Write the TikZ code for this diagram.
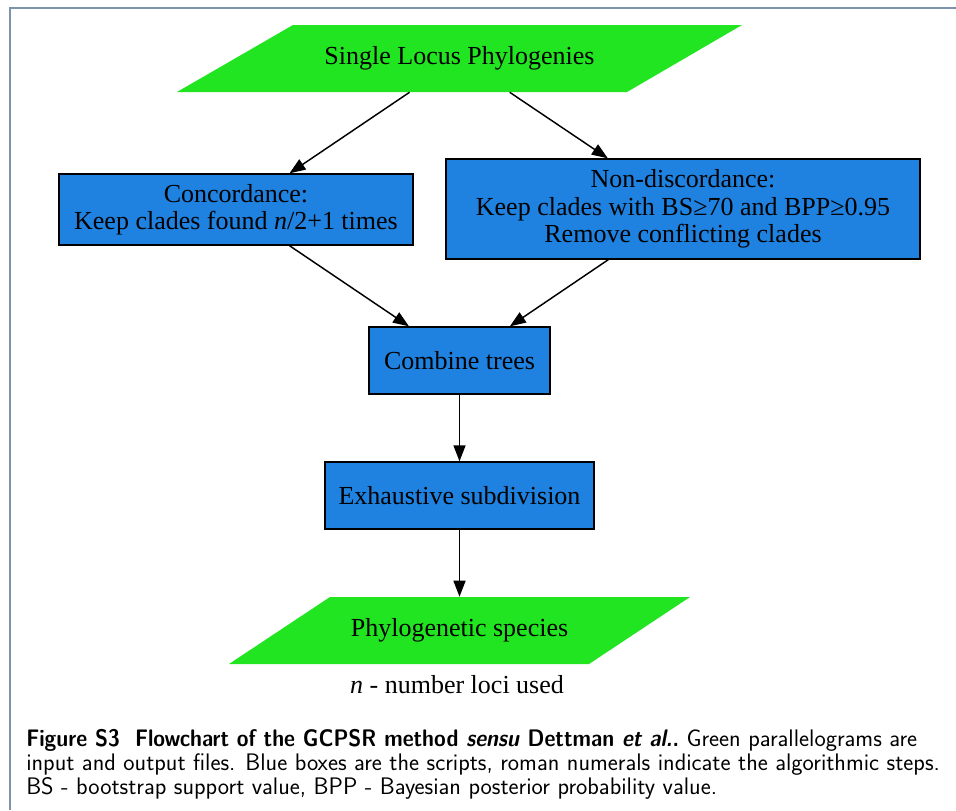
\documentclass[tikz,border=0pt]{standalone}
\usepackage{fontspec}
\usepackage{graphicx}
\newfontfamily\tms{Liberation Serif}
\usetikzlibrary{arrows.meta}
\definecolor{gvgreen}{RGB}{33,229,33}
\definecolor{gvblue}{RGB}{31,130,224}
\definecolor{framec}{RGB}{125,147,173}
\tikzset{
  boxnode/.style={draw=black, fill=gvblue, line width=1pt, inner sep=0pt, align=center,
    font=\tms\fontsize{19.5}{20.5}\selectfont},
  paranode/.style={inner sep=0pt, minimum height=50.25pt, minimum width=200pt, align=center,
    font=\tms\fontsize{19.5}{20.5}\selectfont},
  paraface/.style={fill=gvgreen, draw=none},
  arr/.style={line width=1.1pt, -{Triangle[length=12pt,width=9pt]}},
  capline/.style={anchor=base west, inner sep=0pt, font=\sffamily\fontsize{17.95}{20}\selectfont},
}
\begin{document}
\begin{tikzpicture}[x=0.75pt,y=-0.75pt]
\useasboundingbox (0,0) rectangle (956,810);
\fill[white] (0,0) rectangle (956,810);
% frame
\draw[framec, line width=1.5pt] (10,810) -- (10,8) -- (956,8);
% top parallelogram
\fill[paraface] (293,25) -- (742,25) -- (627,92) -- (177,92) -- cycle;
\node[paranode] (src) at (459.5,58.5) {Single Locus Phylogenies};
% boxes
\node[boxnode, minimum width=265.5pt, minimum height=53.25pt] (conc) at (236,209.5)
  {Concordance:\\Keep clades found \textit{n}/2+1 times};
\node[boxnode, minimum width=355.5pt, minimum height=75pt] (nondisc) at (683,209)
  {Non-discordance:\\Keep clades with BS≥70 and BPP≥0.95\\Remove conflicting clades};
\node[boxnode, minimum width=135.75pt, minimum height=50.25pt] (comb) at (459.5,360.5)
  {Combine trees};
\node[boxnode, minimum width=201.75pt, minimum height=50.25pt] (exh) at (459.5,495.5)
  {Exhaustive subdivision};
% bottom parallelogram
\fill[paraface] (330,597) -- (690,597) -- (589,664) -- (229,664) -- cycle;
\node[paranode] (sink) at (459.5,630.5) {Phylogenetic species};
\node[inner sep=0pt, font=\tms\fontsize{19.5}{20.5}\selectfont] (note) at (457,685)
  {\textit{n} - number loci used};
% edges
\draw[arr] (src) -- (conc);
\draw[arr] (src) -- (nondisc);
\draw[arr] (conc) -- (comb);
\draw[arr] (nondisc) -- (comb);
\draw[arr] (comb) -- (exh);
\draw[arr] (exh) -- (sink);
% caption
\node[capline] (cap1) at (26,746.5) {\scalebox{0.89}[1]{\textbf{Figure S3\hspace{0.35em} Flowchart of the GCPSR method \textit{sensu} Dettman \textit{et al.}.}} Green parallelograms are};
\node[capline] (cap2) at (26,770) {input and output files. Blue boxes are the scripts, roman numerals indicate the algorithmic steps.};
\node[capline] (cap3) at (26,794) {BS - bootstrap support value, BPP - Bayesian posterior probability value.};
\end{tikzpicture}
\end{document}
